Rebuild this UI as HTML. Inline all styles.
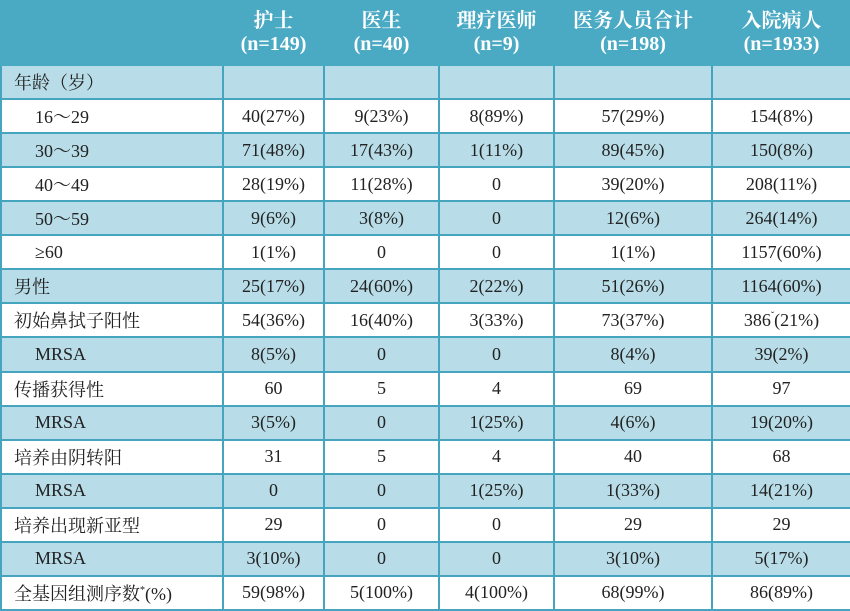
<!DOCTYPE html>
<html><head><meta charset="utf-8"><style>
html,body{margin:0;padding:0;background:#fff;}
table{border-collapse:collapse;table-layout:fixed;width:850px;height:611px;font-family:"Liberation Serif","Noto Serif CJK SC",serif;font-size:18px;color:#222;}
td,th{border:2px solid #45a5bf;padding:0;text-align:center;overflow:hidden;white-space:nowrap;}
th{background:#4aaac4;color:#fff;font-weight:bold;font-size:20px;line-height:23px;height:62px;border-color:#4aaac4;}
tr.l td{background:#b8dde8;}
td{height:32px;background:#fff;}
td.a{text-align:left;padding-left:12px;}
td.b{text-align:left;padding-left:33px;}
sup{font-size:10px;}
</style></head><body>
<table>
<colgroup><col style="width:222px"><col style="width:101px"><col style="width:115px"><col style="width:115px"><col style="width:158px"><col style="width:139px"></colgroup>
<tr><th></th><th>护士<br>(n=149)</th><th>医生<br>(n=40)</th><th>理疗医师<br>(n=9)</th><th>医务人员合计<br>(n=198)</th><th>入院病人<br>(n=1933)</th></tr>
<tr class="l"><td class="a">年龄（岁）</td><td></td><td></td><td></td><td></td><td></td></tr>
<tr><td class="b">16～29</td><td>40(27%)</td><td>9(23%)</td><td>8(89%)</td><td>57(29%)</td><td>154(8%)</td></tr>
<tr class="l"><td class="b">30～39</td><td>71(48%)</td><td>17(43%)</td><td>1(11%)</td><td>89(45%)</td><td>150(8%)</td></tr>
<tr><td class="b">40～49</td><td>28(19%)</td><td>11(28%)</td><td>0</td><td>39(20%)</td><td>208(11%)</td></tr>
<tr class="l"><td class="b">50～59</td><td>9(6%)</td><td>3(8%)</td><td>0</td><td>12(6%)</td><td>264(14%)</td></tr>
<tr><td class="b">≥60</td><td>1(1%)</td><td>0</td><td>0</td><td>1(1%)</td><td>1157(60%)</td></tr>
<tr class="l"><td class="a">男性</td><td>25(17%)</td><td>24(60%)</td><td>2(22%)</td><td>51(26%)</td><td>1164(60%)</td></tr>
<tr><td class="a">初始鼻拭子阳性</td><td>54(36%)</td><td>16(40%)</td><td>3(33%)</td><td>73(37%)</td><td>386<sup>ˇ</sup>(21%)</td></tr>
<tr class="l"><td class="b">MRSA</td><td>8(5%)</td><td>0</td><td>0</td><td>8(4%)</td><td>39(2%)</td></tr>
<tr><td class="a">传播获得性</td><td>60</td><td>5</td><td>4</td><td>69</td><td>97</td></tr>
<tr class="l"><td class="b">MRSA</td><td>3(5%)</td><td>0</td><td>1(25%)</td><td>4(6%)</td><td>19(20%)</td></tr>
<tr><td class="a">培养由阴转阳</td><td>31</td><td>5</td><td>4</td><td>40</td><td>68</td></tr>
<tr class="l"><td class="b">MRSA</td><td>0</td><td>0</td><td>1(25%)</td><td>1(33%)</td><td>14(21%)</td></tr>
<tr><td class="a">培养出现新亚型</td><td>29</td><td>0</td><td>0</td><td>29</td><td>29</td></tr>
<tr class="l"><td class="b">MRSA</td><td>3(10%)</td><td>0</td><td>0</td><td>3(10%)</td><td>5(17%)</td></tr>
<tr><td class="a">全基因组测序数<sup>*</sup>(%)</td><td>59(98%)</td><td>5(100%)</td><td>4(100%)</td><td>68(99%)</td><td>86(89%)</td></tr>
</table>
</body></html>
